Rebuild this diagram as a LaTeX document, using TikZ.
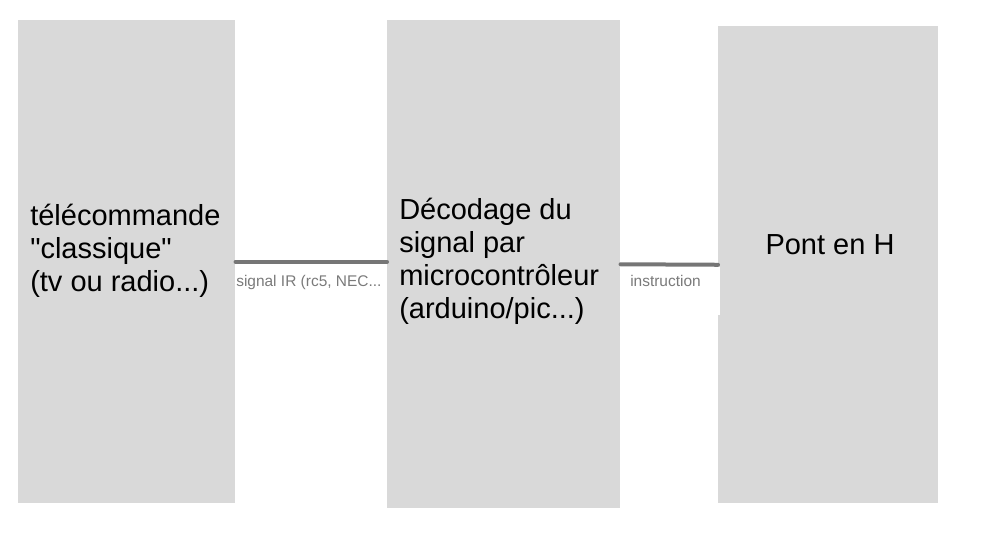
\documentclass[tikz,border=0pt]{standalone}
\usepackage{fontspec}
\setmainfont{Liberation Sans}
\usepackage{tikz}
\usetikzlibrary{positioning}
\definecolor{blockgray}{HTML}{D9D9D9}
\definecolor{linkgray}{HTML}{767676}
\definecolor{labelgray}{HTML}{7A7A7A}

\begin{document}
\begin{tikzpicture}[
    x=0.75pt, y=-0.75pt,
    block style/.style={fill=blockgray, inner sep=0pt, anchor=north west},
    text style/.style={align=left, inner sep=0pt, font=\fontsize{21.75}{24.75}\selectfont},
    link style/.style={draw=linkgray, line width=3pt, line cap=round},
    label style/.style={text=labelgray, font=\fontsize{11.6}{13.5}\selectfont}
]
\useasboundingbox (0,0) rectangle (982,542);

% blocs
\node[block style, minimum width=162.75pt, minimum height=362.25pt] (tele) at (18,20) {};
\node[block style, minimum width=174.75pt, minimum height=366pt] (deco) at (387,20) {};
\node[block style, minimum width=165pt, minimum height=357.75pt] (pont) at (718,26) {};

% textes des blocs
\node[text style, anchor=west] (tele text) at (30,251) {t\'el\'ecommande\\\textquotedbl classique\textquotedbl\\(tv ou radio...)};
\node[text style, anchor=west] (deco text) at (399,261) {D\'ecodage du\\signal par\\microcontr\^oleur\\(arduino/pic...)};
\node[text style, anchor=base] (pont text) at (830,254) {Pont en H};

% liaisons
\draw[link style] (tele.east) -- (tele.east -| deco.west);
\draw[link style] (deco.east) -- (pont.west);

% etiquettes
\node[label style, anchor=base west, inner sep=0pt] (ir label) at (236,286) {signal IR (rc5, NEC...};
\node[label style, anchor=north west, fill=white, inner xsep=7.5pt, inner ysep=0pt,
      text width=60pt, align=left, text height=14.25pt, text depth=21.75pt] (instr label) at (620,267) {instruction};
\end{tikzpicture}
\end{document}
